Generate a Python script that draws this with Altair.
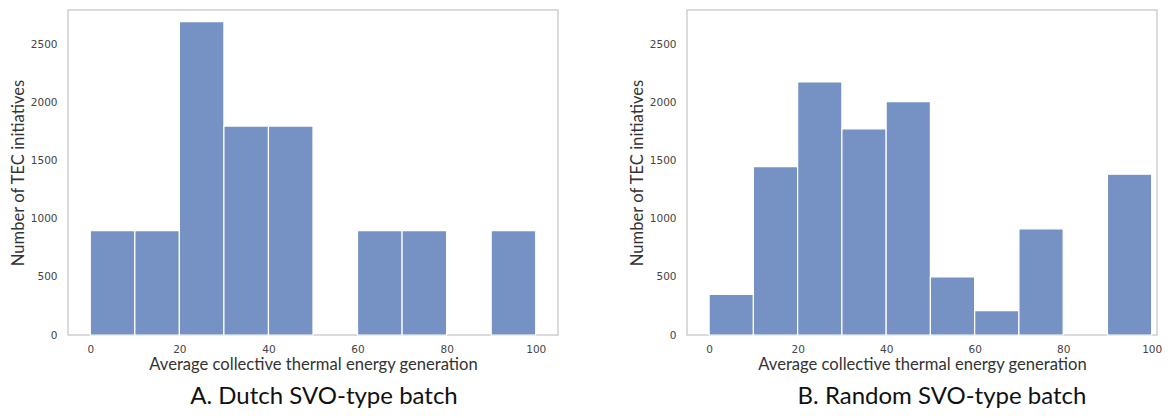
import altair as alt
import pandas as pd

bin_start = [0, 10, 20, 30, 40, 50, 60, 70, 80, 90]
bin_end = [10, 20, 30, 40, 50, 60, 70, 80, 90, 100]
dutch_counts = [900, 900, 2700, 1800, 1800, 0, 900, 900, 0, 900]
random_counts = [350, 1450, 2180, 1775, 2010, 500, 210, 915, 0, 1385]
x_ticks = [0, 20, 40, 60, 80, 100]
y_ticks = [0, 500, 1000, 1500, 2000, 2500]
x_title = "Average collective thermal energy generation"
y_title = "Number of TEC initiatives"
captions = ["A. Dutch SVO-type batch", "B. Random SVO-type batch"]

BAR = "#7692c4"


def panel(counts, caption, x_max, width, dx):
    df = pd.DataFrame({"start": bin_start, "end": bin_end, "count": counts})
    df = df[df["count"] > 0]
    return (
        alt.Chart(df)
        .mark_bar(color=BAR, stroke="white", strokeWidth=1.2, opacity=1)
        .encode(
            x=alt.X(
                "start:Q",
                scale=alt.Scale(domain=[-5, x_max], nice=False, zero=False),
                axis=alt.Axis(values=x_ticks, title=x_title, labelPadding=9, titlePadding=2),
            ),
            x2="end:Q",
            y=alt.Y(
                "count:Q",
                scale=alt.Scale(domain=[0, 2800], nice=False),
                axis=alt.Axis(values=y_ticks, title=y_title, format="d",
                              labelPadding=11, titlePadding=4),
            ),
            y2=alt.datum(0),
        )
        .properties(
            width=width,
            height=325,
            title=alt.TitleParams(
                caption,
                orient="bottom",
                frame="group",
                anchor="middle",
                fontSize=24,
                font="Lato",
                fontWeight="normal",
                color="#111111",
                offset=12,
                dx=dx,
            ),
        )
    )


chart = (
    alt.hconcat(
        panel(dutch_counts, captions[0], 105, 490, 11),
        panel(random_counts, captions[1], 101.2, 470, 20),
        spacing=69,
    )
    .properties(padding={"left": 1, "top": 1, "right": 0, "bottom": 0})
    .configure_view(stroke="#cfcfcf", strokeWidth=1.5)
    .configure_axis(
        grid=False,
        domain=False,
        ticks=False,
        labelFont="DejaVu Sans",
        labelFontSize=10.5,
        labelColor="#444444",
        titleFont="Lato",
        titleFontSize=16.6,
        titleFontWeight="normal",
        titleColor="#333333",
    )
)

chart.save("out.html", embed_options={"renderer": "svg", "actions": False})
